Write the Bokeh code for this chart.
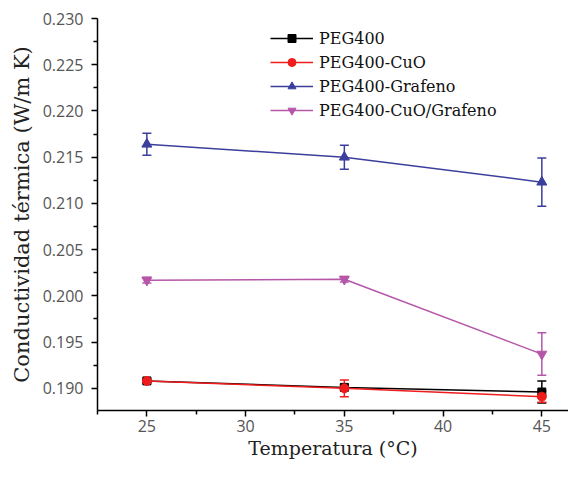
from bokeh.plotting import figure
from bokeh.models import (ColumnDataSource, Whisker, TeeHead, FixedTicker,
                          PrintfTickFormatter, Legend, LegendItem)
from bokeh.embed import file_html
from bokeh.resources import INLINE

temperature = [25, 35, 45]
peg400 = [0.1908, 0.1901, 0.1896]
peg400_err = [0.0002, 0.0003, 0.0012]
peg400_cuo = [0.1908, 0.1900, 0.1891]
peg400_cuo_err = [0.0002, 0.0009, 0.0006]
peg400_graf = [0.2164, 0.2150, 0.2123]
peg400_graf_err = [0.0012, 0.0013, 0.0026]
peg400_cuo_graf = [0.2017, 0.2018, 0.1937]
peg400_cuo_graf_err = [0.0003, 0.0003, 0.0023]

series_names = ["PEG400", "PEG400-CuO", "PEG400-Grafeno", "PEG400-CuO/Grafeno"]
colors = ["#000000", "#ee1c1c", "#3b3f9c", "#b656a8"]
markers = ["square", "circle", "triangle", "inverted_triangle"]
msizes = [8, 9, 10, 10]

y_ticks = [0.190, 0.195, 0.200, 0.205, 0.210, 0.215, 0.220, 0.225, 0.230]
y_minor = [0.1925, 0.1975, 0.2025, 0.2075, 0.2125, 0.2175, 0.2225, 0.2275]
x_ticks = [25, 30, 35, 40, 45]
x_minor = [22.5, 27.5, 32.5, 37.5, 42.5]

SERIF = "DejaVu Serif"
SANS = "Open Sans"

p = figure(width=568, height=463, x_range=(22.5, 46.35), y_range=(0.1876, 0.2300),
           output_backend="svg", toolbar_location=None,
           min_border_left=97, min_border_top=18, min_border_bottom=53, min_border_right=0)
p.xgrid.visible = False
p.ygrid.visible = False
p.outline_line_color = None
p.background_fill_color = "white"
p.border_fill_color = "white"

for ax in (p.xaxis[0], p.yaxis[0]):
    ax.axis_line_width = 1.5
    ax.axis_line_color = "#000000"
    ax.major_tick_line_width = 1.5
    ax.minor_tick_line_width = 1.5
    ax.major_tick_out = 6
    ax.major_tick_in = 0
    ax.minor_tick_out = 4
    ax.minor_tick_in = 0
    ax.major_label_text_font = SANS
    ax.major_label_text_font_size = "16px"
    ax.major_label_text_color = "#555555"
    ax.axis_label_text_font = SERIF
    ax.axis_label_text_font_style = "normal"
    ax.axis_label_text_color = "#222222"

p.yaxis[0].ticker = FixedTicker(ticks=y_ticks, minor_ticks=y_minor)
p.yaxis[0].formatter = PrintfTickFormatter(format="%.3f")
p.xaxis[0].ticker = FixedTicker(ticks=x_ticks, minor_ticks=x_minor)
p.yaxis[0].axis_label = "Conductividad térmica (W/m K)"
p.xaxis[0].axis_label = "Temperatura (°C)"
p.xaxis[0].axis_label_text_font_size = "19px"
p.yaxis[0].axis_label_text_font_size = "21px"
p.xaxis[0].axis_label_standoff = 2
p.yaxis[0].axis_label_standoff = 6
p.yaxis[0].major_label_standoff = 8
p.xaxis[0].major_label_standoff = 3

all_vals = [peg400, peg400_cuo, peg400_graf, peg400_cuo_graf]
all_errs = [peg400_err, peg400_cuo_err, peg400_graf_err, peg400_cuo_graf_err]

items = []
for name, vals, errs, c, m, s in zip(series_names, all_vals, all_errs, colors, markers, msizes):
    src = ColumnDataSource(dict(
        x=temperature, y=vals,
        lower=[v - e for v, e in zip(vals, errs)],
        upper=[v + e for v, e in zip(vals, errs)]))
    w = Whisker(source=src, base="x", lower="lower", upper="upper",
                line_color=c, line_width=1.5,
                upper_head=TeeHead(size=9, line_color=c, line_width=1.5),
                lower_head=TeeHead(size=9, line_color=c, line_width=1.5))
    p.add_layout(w)
    ln = p.line("x", "y", source=src, line_color=c, line_width=1.5)
    sc = p.scatter("x", "y", source=src, marker=m, size=s, fill_color=c, line_color=c)
    items.append(LegendItem(label=name, renderers=[ln, sc]))

legend = Legend(items=items, location=(173, 290), border_line_color=None,
                background_fill_alpha=0, label_text_font=SERIF,
                label_text_font_size="16px", label_text_color="#111111",
                glyph_width=43, glyph_height=20, label_height=20,
                spacing=4, padding=0, margin=0, label_standoff=6)
p.add_layout(legend, "center")

open("out.html", "w").write(file_html(p, INLINE))
